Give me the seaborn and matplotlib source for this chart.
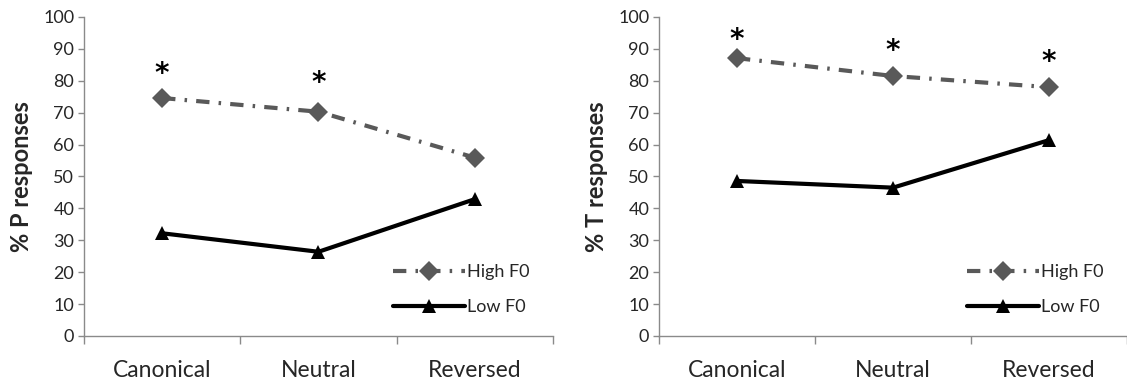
import matplotlib
matplotlib.use("Agg")
import matplotlib.pyplot as plt
from matplotlib.ticker import FixedLocator, NullFormatter, FixedFormatter
import seaborn as sns
import pandas as pd

conditions = ["Canonical", "Neutral", "Reversed"]
series_names = ["High F0", "Low F0"]
p_high = [74.6, 70.3, 55.9]
p_low = [32.2, 26.4, 42.9]
t_high = [87.1, 81.5, 78.0]
t_low = [48.6, 46.5, 61.4]
p_stars = [84.0, 81.0, None]
t_stars = [94.4, 91.0, 87.5]
y_labels = ["% P responses", "% T responses"]

sns.set_style("white")
plt.rcParams["font.family"] = ["Lato", "DejaVu Sans"]

fig = plt.figure(figsize=(11.27, 3.87), dpi=100)
ax1 = fig.add_axes([0.0745, 0.1318, 0.4162, 0.8243])
ax2 = fig.add_axes([0.5847, 0.1318, 0.4153, 0.8243])

axis_color = "#8a8a8a"

def draw(ax, high, low, stars, ylabel):
    df = pd.DataFrame({
        "cond": conditions * 2,
        "val": list(high) + list(low),
        "series": [series_names[0]] * 3 + [series_names[1]] * 3,
    })
    sns.lineplot(data=df, x="cond", y="val", hue="series", style="series",
                 palette={"High F0": "#595959", "Low F0": "#000000"},
                 markers={"High F0": "D", "Low F0": "^"},
                 dashes={"High F0": (3.2, 2.2, 0.6, 2.2), "Low F0": ""},
                 linewidth=3, markersize=10.5, markeredgewidth=0,
                 ax=ax, legend=True)
    for i, s in enumerate(stars):
        if s is not None:
            ax.annotate("*", xy=(i, s), xytext=(0, -4), textcoords="offset points",
                        ha="center", va="center", fontsize=20, fontweight="bold",
                        family="DejaVu Sans", color="black")
    ax.set_xlim(-0.5, 2.5)
    ax.set_ylim(0, 100)
    ax.set_yticks(range(0, 101, 10))
    ax.xaxis.set_major_locator(FixedLocator([-0.5, 0.5, 1.5, 2.5]))
    ax.xaxis.set_major_formatter(NullFormatter())
    ax.xaxis.set_minor_locator(FixedLocator([0, 1, 2]))
    ax.xaxis.set_minor_formatter(FixedFormatter(conditions))
    ax.tick_params(axis="x", which="major", direction="out", length=6,
                   width=1, color=axis_color, bottom=True)
    ax.tick_params(axis="x", which="minor", length=0, pad=17, labelsize=16.5,
                   bottom=True)
    ax.tick_params(axis="y", direction="out", length=4, width=1,
                   color=axis_color, left=True, labelsize=13, pad=3)
    for side in ["top", "right"]:
        ax.spines[side].set_visible(False)
    for side in ["left", "bottom"]:
        ax.spines[side].set_color(axis_color)
        ax.spines[side].set_linewidth(1)
    ax.set_xlabel("")
    ax.set_ylabel(ylabel, fontsize=17, fontweight="bold", labelpad=7)
    handles, labels = ax.get_legend_handles_labels()
    ax.legend(handles, labels, loc="lower right", bbox_to_anchor=(0.985, 0.015),
              frameon=False, fontsize=13, handlelength=4.0,
              handletextpad=0.1, labelspacing=1.05)

draw(ax1, p_high, p_low, p_stars, y_labels[0])
draw(ax2, t_high, t_low, t_stars, y_labels[1])

fig.savefig("out.png", dpi=100)
